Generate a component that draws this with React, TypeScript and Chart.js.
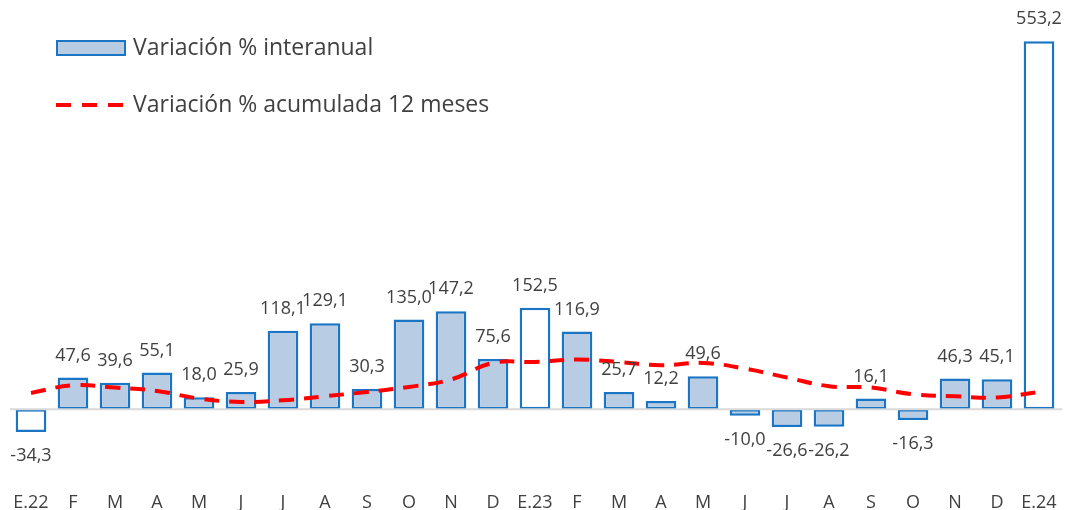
import React, { useEffect, useRef } from 'react';
import { Chart, registerables } from 'chart.js';

Chart.register(...registerables);

const categories = ['E.22', 'F', 'M', 'A', 'M', 'J', 'J', 'A', 'S', 'O', 'N', 'D', 'E.23', 'F', 'M', 'A', 'M', 'J', 'J', 'A', 'S', 'O', 'N', 'D', 'E.24'];
const interanual = [-34.3, 47.6, 39.6, 55.1, 18.0, 25.9, 118.1, 129.1, 30.3, 135.0, 147.2, 75.6, 152.5, 116.9, 25.7, 12.2, 49.6, -10.0, -26.6, -26.2, 16.1, -16.3, 46.3, 45.1, 553.2];
const acumulada = [24.5, 36.0, 32.6, 27.5, 16.0, 11.0, 13.5, 19.5, 26.0, 33.5, 44.7, 69.6, 71.0, 74.7, 71.0, 66.0, 69.6, 61.0, 47.6, 34.6, 32.6, 22.5, 19.5, 17.6, 26.0];
const seriesLabels = ['Variación % interanual', 'Variación % acumulada 12 meses'];

const FONT = '"Open Sans", sans-serif';
const TEXT = '#404040';
const BAR_FILL = '#B8CCE4';
const BAR_BORDER = '#1A75C4';
const LINE_RED = '#FF0000';

const fmt = (v: number) => v.toFixed(1).replace('.', ',');

const zeroLinePlugin = {
  id: 'zeroLine',
  afterDatasetsDraw(chart: any) {
    const { ctx, chartArea, scales } = chart;
    const y = scales.y.getPixelForValue(0);
    ctx.save();
    ctx.strokeStyle = '#D9D9D9';
    ctx.lineWidth = 2;
    ctx.beginPath();
    ctx.moveTo(chartArea.left, y);
    ctx.lineTo(chartArea.right + 2, y);
    ctx.stroke();
    ctx.restore();
  },
};

const valueLabelPlugin = {
  id: 'valueLabels',
  afterDraw(chart: any) {
    const { ctx } = chart;
    const meta = chart.getDatasetMeta(1);
    ctx.save();
    ctx.font = `18px ${FONT}`;
    ctx.fillStyle = TEXT;
    ctx.textAlign = 'center';
    ctx.textBaseline = 'middle';
    meta.data.forEach((bar: any, i: number) => {
      const v = interanual[i];
      const y = v >= 0 ? bar.y - 22 : bar.y + 24;
      ctx.fillText(fmt(v), bar.x, y);
    });
    ctx.restore();
  },
};

const legendPlugin = {
  id: 'customLegend',
  afterDraw(chart: any) {
    const { ctx } = chart;
    ctx.save();
    ctx.fillStyle = BAR_FILL;
    ctx.fillRect(57, 41, 68, 14);
    ctx.strokeStyle = BAR_BORDER;
    ctx.lineWidth = 2;
    ctx.strokeRect(57, 41, 68, 14);
    ctx.strokeStyle = LINE_RED;
    ctx.lineWidth = 4;
    ctx.setLineDash([15, 11]);
    ctx.beginPath();
    ctx.moveTo(56, 105);
    ctx.lineTo(127, 105);
    ctx.stroke();
    ctx.setLineDash([]);
    ctx.font = `23px ${FONT}`;
    ctx.fillStyle = TEXT;
    ctx.textAlign = 'left';
    ctx.textBaseline = 'middle';
    ctx.fillText(seriesLabels[0], 133, 48);
    ctx.fillText(seriesLabels[1], 133, 105);
    ctx.restore();
  },
};

export default function App() {
  const ref = useRef<HTMLCanvasElement>(null);

  useEffect(() => {
    if (!ref.current) return;
    const barBg = categories.map((c) => (c.startsWith('E.') ? '#FFFFFF' : BAR_FILL));
    const chart = new Chart(ref.current, {
      type: 'bar',
      data: {
        labels: categories,
        datasets: [
          {
            type: 'line',
            label: seriesLabels[1],
            data: acumulada,
            borderColor: LINE_RED,
            borderWidth: 4,
            borderDash: [15, 10],
            pointRadius: 0,
            tension: 0.4,
            fill: false,
            order: 0,
          } as any,
          {
            type: 'bar',
            label: seriesLabels[0],
            data: interanual,
            backgroundColor: barBg,
            borderColor: BAR_BORDER,
            borderWidth: 2.5,
            borderSkipped: false,
            categoryPercentage: 1,
            barPercentage: 0.73,
            order: 1,
          },
        ],
      },
      options: {
        animation: false,
        responsive: true,
        maintainAspectRatio: false,
        layout: { padding: { left: 10, right: 14, top: 10, bottom: -8 } },
        plugins: {
          legend: { display: false },
          tooltip: { enabled: false },
        },
        scales: {
          x: {
            grid: { display: false, drawTicks: false },
            border: { display: false },
            ticks: {
              color: TEXT,
              font: { family: FONT, size: 18 },
              padding: 4,
              autoSkip: false,
              maxRotation: 0,
            },
          },
          y: {
            display: false,
            min: -119,
            max: 600,
          },
        },
      },
      plugins: [zeroLinePlugin, valueLabelPlugin, legendPlugin],
    });
    return () => chart.destroy();
  }, []);

  return (
    <div style={{ position: 'fixed', left: 0, top: 0, width: 1074, height: 510, background: '#FFFFFF' }}>
      <canvas ref={ref} />
    </div>
  );
}
